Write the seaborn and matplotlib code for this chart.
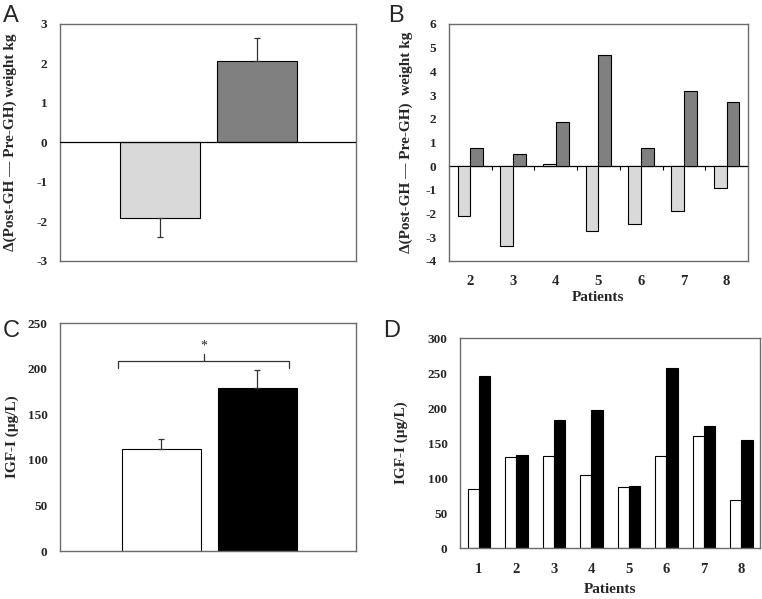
"""
Four-panel GH figure: weight change (A, B) and IGF-I (C, D).
"""

import numpy as np
import pandas as pd
import matplotlib
matplotlib.use("Agg")
import matplotlib.pyplot as plt
import seaborn as sns

OUTPUT_PNG = "out.png"

# ── Data ─────────────────────────────────────────────────────────────────────
# Panel A: mean weight change, pre vs post
A_GROUPS = ["Pre", "Post"]
A_MEAN   = [-1.90, 2.05]
A_ERR    = [-0.50, 0.60]          # one-sided (sign gives direction)

# Panel B: weight change per patient
B_PATIENTS = ["2", "3", "4", "5", "6", "7", "8"]
B_PRE      = [-2.10, -3.35, 0.10, -2.72, -2.45, -1.88, -0.92]
B_POST     = [0.75, 0.52, 1.88, 4.70, 0.75, 3.17, 2.72]

# Panel C: mean IGF-I
C_GROUPS = ["Pre", "Post"]
C_MEAN   = [112, 179]
C_ERR    = [11, 19]

# Panel D: IGF-I per patient
D_PATIENTS = ["1", "2", "3", "4", "5", "6", "7", "8"]
D_PRE      = [84, 130, 131, 104, 87, 131, 160, 69]
D_POST     = [246, 133, 183, 197, 88, 257, 175, 154]

# ── Style ────────────────────────────────────────────────────────────────────
LIGHT     = "#d9d9d9"
DARK      = "#808080"
BOX       = "#6b6b6b"
SERIF     = ["Liberation Serif", "DejaVu Serif"]
TICK_FS   = 9.5
XTICK_FS  = 10.5
LABEL_FS  = 11
WEIGHT_LABEL_A = "\u0394(Post-GH \u2014 Pre-GH) weight kg"
WEIGHT_LABEL_B = "\u0394(Post-GH \u2014 Pre-GH)  weight kg"
IGF_LABEL = "IGF-I (\u00b5g/L)"


def _style_axis(ax, ylim, yticks):
    ax.set_ylim(*ylim)
    ax.set_yticks(yticks)
    ax.set_yticklabels([str(t) for t in yticks], fontsize=TICK_FS,
                       fontweight="bold", family=SERIF)
    ax.tick_params(axis="y", direction="out", length=3, width=0.8,
                   color=BOX, pad=6)
    for s in ax.spines.values():
        s.set_visible(True)
        s.set_color(BOX)
        s.set_linewidth(1.0)
    ax.set_facecolor("white")
    ax.grid(False)


def _ylabel(ax, text, xpos):
    ax.set_ylabel(text, fontsize=LABEL_FS, fontweight="bold", family=SERIF)
    ax.yaxis.set_label_coords(xpos, 0.5)


def _xlabel(ax, text, ypos):
    ax.set_xlabel(text, fontsize=LABEL_FS, fontweight="bold", family=SERIF)
    ax.xaxis.set_label_coords(0.5, ypos)


def _panel_letter(fig, x, y, s):
    fig.text(x, y, s, fontsize=17, family=["Liberation Sans", "DejaVu Sans"],
             ha="left", va="top")


# ── Panel A ──────────────────────────────────────────────────────────────────
def plot_a(ax):
    sns.barplot(x=A_GROUPS, y=A_MEAN, hue=A_GROUPS, order=A_GROUPS,
                palette=[LIGHT, DARK], width=0.83, edgecolor="black",
                linewidth=0.8, errorbar=None, legend=False, ax=ax)
    x = np.arange(len(A_GROUPS))
    for xi, m, e in zip(x, A_MEAN, A_ERR):
        lo, hi = (abs(e), 0) if e < 0 else (0, e)
        ax.errorbar(xi, m, yerr=[[lo], [hi]], fmt="none", ecolor="#333333",
                    elinewidth=0.9, capsize=2.5, capthick=0.9)
    ax.axhline(0, color="black", linewidth=0.9, zorder=3)
    ax.set_xlim(-1.04, 2.03)
    ax.set_xticks([])
    ax.set_xlabel("")
    _style_axis(ax, (-3, 3), list(range(-3, 4)))
    _ylabel(ax, WEIGHT_LABEL_A, -0.145)


# ── Panel B ──────────────────────────────────────────────────────────────────
def plot_b(ax):
    df = pd.DataFrame({
        "patient": B_PATIENTS * 2,
        "delta": B_PRE + B_POST,
        "phase": ["Pre"] * len(B_PATIENTS) + ["Post"] * len(B_PATIENTS),
    })
    sns.barplot(data=df, x="patient", y="delta", hue="phase",
                order=B_PATIENTS, hue_order=["Pre", "Post"],
                palette=[LIGHT, DARK], width=0.6, edgecolor="black",
                linewidth=0.8, errorbar=None, legend=False, ax=ax)
    ax.set_xlim(-0.5, len(B_PATIENTS) - 0.5)
    _style_axis(ax, (-4, 6), list(range(-4, 7)))
    ax.set_xticks(range(len(B_PATIENTS)))
    ax.set_xticklabels(B_PATIENTS, fontsize=XTICK_FS, fontweight="bold",
                       family=SERIF)
    ax.tick_params(axis="x", length=0, pad=10)
    # zero axis with category separators
    zero = ax.secondary_xaxis(0.4)
    zero.set_xticks(np.arange(0.5, len(B_PATIENTS) - 0.5, 1.0))
    zero.set_xticklabels([])
    zero.tick_params(axis="x", direction="out", length=3, width=0.8,
                     color="black")
    for s in zero.spines.values():
        s.set_color("black")
        s.set_linewidth(0.9)
    _ylabel(ax, WEIGHT_LABEL_B, -0.12)
    _xlabel(ax, "Patients", -0.125)


# ── Panel C ──────────────────────────────────────────────────────────────────
def plot_c(ax):
    sns.barplot(x=C_GROUPS, y=C_MEAN, hue=C_GROUPS, order=C_GROUPS,
                palette=["white", "black"], width=0.82, edgecolor="black",
                linewidth=0.8, errorbar=None, legend=False, ax=ax)
    x = np.arange(len(C_GROUPS))
    ax.errorbar(x, C_MEAN, yerr=[[0] * len(C_ERR), C_ERR], fmt="none",
                ecolor="#333333", elinewidth=0.9, capsize=2.5, capthick=0.9)
    ax.set_xlim(-1.057, 2.026)
    _style_axis(ax, (0, 250), list(range(0, 251, 50)))
    ax.set_xticks(list(ax.get_xlim()))
    ax.set_xticklabels([])
    ax.tick_params(axis="x", direction="out", length=3, width=0.8, color=BOX)
    ax.set_xlabel("")
    _ylabel(ax, IGF_LABEL, -0.14)

    # significance bracket
    xl, xr, xm = -0.45, 1.33, 0.44
    yb, ye, yt = 208, 201, 216
    ax.plot([xl, xl, xr, xr], [ye, yb, yb, ye], color="#333333", lw=0.9,
            solid_joinstyle="round")
    ax.plot([xm, xm], [yb, yt], color="#333333", lw=0.9)
    ax.text(xm, yt + 2, "*", ha="center", va="bottom", fontsize=10,
            family=SERIF)


# ── Panel D ──────────────────────────────────────────────────────────────────
def plot_d(ax):
    df = pd.DataFrame({
        "patient": D_PATIENTS * 2,
        "igf": D_PRE + D_POST,
        "phase": ["Pre"] * len(D_PATIENTS) + ["Post"] * len(D_PATIENTS),
    })
    sns.barplot(data=df, x="patient", y="igf", hue="phase",
                order=D_PATIENTS, hue_order=["Pre", "Post"],
                palette=["white", "black"], width=0.6, edgecolor="black",
                linewidth=0.8, errorbar=None, legend=False, ax=ax)
    ax.set_xlim(-0.5, len(D_PATIENTS) - 0.5)
    _style_axis(ax, (0, 300), list(range(0, 301, 50)))
    ax.set_xticks(range(len(D_PATIENTS)))
    ax.set_xticklabels(D_PATIENTS, fontsize=XTICK_FS, fontweight="bold",
                       family=SERIF)
    ax.set_xticks(np.arange(-0.5, len(D_PATIENTS), 1.0), minor=True)
    ax.tick_params(axis="x", which="major", length=0, pad=11)
    ax.tick_params(axis="x", which="minor", direction="out", length=3,
                   width=0.8, color=BOX)
    _ylabel(ax, IGF_LABEL, -0.172)
    _xlabel(ax, "Patients", -0.168)


# ── Main ─────────────────────────────────────────────────────────────────────
def main():
    sns.set_theme(style="white")
    plt.rcParams["font.family"] = ["Liberation Serif", "DejaVu Serif"]

    fig = plt.figure(figsize=(7.62, 5.99), dpi=100)
    fig.patch.set_facecolor("white")

    ax_a = fig.add_axes([0.0787, 0.5643, 0.3885, 0.3957])
    ax_b = fig.add_axes([0.5892, 0.5643, 0.3924, 0.3957])
    ax_c = fig.add_axes([0.0787, 0.0801, 0.3885, 0.3806])
    ax_d = fig.add_axes([0.6037, 0.0851, 0.3937, 0.3506])

    plot_a(ax_a)
    plot_b(ax_b)
    plot_c(ax_c)
    plot_d(ax_d)

    _panel_letter(fig, 0.004, 0.992, "A")
    _panel_letter(fig, 0.510, 0.992, "B")
    _panel_letter(fig, 0.004, 0.466, "C")
    _panel_letter(fig, 0.503, 0.466, "D")

    fig.savefig(OUTPUT_PNG, dpi=100, facecolor="white")
    plt.close(fig)


if __name__ == "__main__":
    main()
